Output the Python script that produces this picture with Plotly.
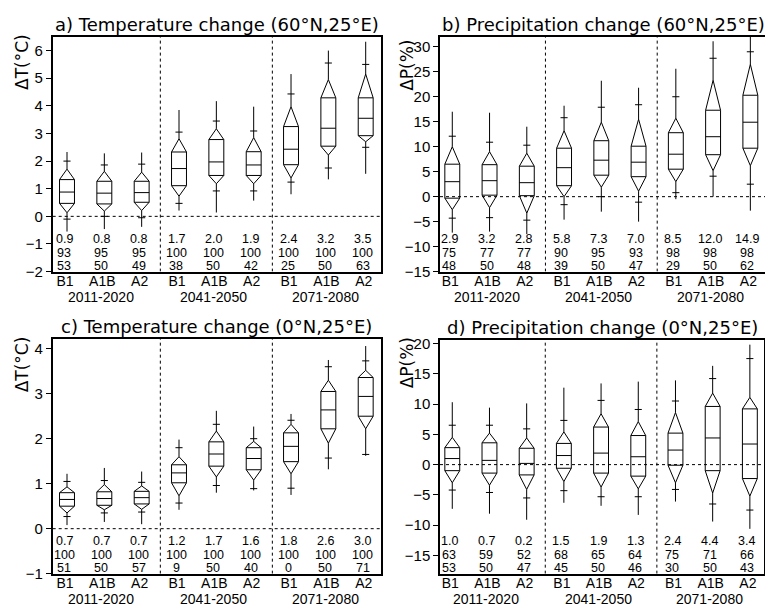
import plotly.graph_objects as go

# Page body has an 8px margin: the figure is drawn 8px in from the top-left.
OFF = 8
W, H = 773 - OFF, 612 - OFF

scenarios = ["B1", "A1B", "A2"]
periods = ["2011-2020", "2041-2050", "2071-2080"]

# Each glyph: [min, lower +, lower apex, box low, median, box high, upper apex, upper +, max]
# order: 2011 B1, A1B, A2, 2041 B1, A1B, A2, 2071 B1, A1B, A2
temp_60N = [
    [-0.55, -0.10, 0.13, 0.47, 0.88, 1.33, 1.71, 2.00, 2.33],
    [-0.46, 0.00, 0.19, 0.45, 0.84, 1.27, 1.63, 1.86, 2.28],
    [-0.38, -0.05, 0.21, 0.51, 0.86, 1.27, 1.60, 1.89, 2.31],
    [0.21, 0.47, 0.73, 1.11, 1.73, 2.33, 2.81, 3.05, 3.85],
    [0.14, 0.92, 1.18, 1.48, 1.97, 2.78, 3.17, 3.45, 4.17],
    [0.57, 0.92, 1.18, 1.48, 1.86, 2.34, 2.85, 3.09, 3.97],
    [0.80, 1.24, 1.39, 1.87, 2.43, 3.25, 3.97, 4.43, 5.15],
    [1.34, 1.75, 2.22, 2.54, 3.19, 4.29, 4.95, 5.55, 6.00],
    [1.54, 2.50, 2.70, 2.92, 3.55, 4.29, 5.15, 5.50, 6.32],
]
prec_60N = [
    [-7.2, -4.3, -2.6, -0.3, 3.0, 6.5, 10.0, 12.1, 17.0],
    [-7.0, -4.2, -2.2, 0.3, 3.2, 6.4, 9.0, 10.9, 16.8],
    [-7.5, -4.7, -3.3, 0.2, 2.8, 6.1, 8.7, 10.3, 14.0],
    [-4.6, -1.6, 0.0, 2.2, 5.8, 9.7, 13.2, 15.8, 18.2],
    [-3.0, 0.0, 1.9, 4.3, 7.3, 11.2, 14.9, 17.9, 23.2],
    [-5.0, -1.1, 1.1, 4.0, 6.9, 10.1, 15.5, 18.4, 21.8],
    [-0.5, 0.8, 3.0, 5.5, 8.5, 12.8, 15.7, 20.0, 25.6],
    [0.0, 4.1, 5.2, 8.4, 12.0, 17.3, 23.3, 27.7, 31.1],
    [-2.8, 2.5, 6.2, 9.7, 14.9, 20.3, 26.5, 29.0, 32.5],
]
temp_0N = [
    [0.08, 0.27, 0.35, 0.50, 0.65, 0.80, 0.93, 1.05, 1.22],
    [0.15, 0.35, 0.42, 0.52, 0.67, 0.82, 0.98, 1.07, 1.35],
    [0.10, 0.37, 0.43, 0.55, 0.69, 0.83, 0.95, 1.03, 1.27],
    [0.42, 0.57, 0.73, 1.02, 1.24, 1.42, 1.60, 1.80, 1.98],
    [0.80, 0.96, 1.15, 1.39, 1.66, 1.93, 2.17, 2.32, 2.62],
    [0.85, 0.89, 1.08, 1.31, 1.56, 1.80, 1.94, 2.00, 2.27],
    [0.75, 0.90, 1.22, 1.49, 1.83, 2.13, 2.32, 2.41, 2.55],
    [1.32, 1.57, 1.90, 2.22, 2.64, 3.05, 3.30, 3.60, 3.75],
    [1.62, 1.65, 2.22, 2.50, 2.94, 3.36, 3.52, 3.73, 4.06],
]
prec_0N = [
    [-7.3, -4.2, -3.0, -1.0, 1.0, 2.8, 4.5, 6.5, 10.3],
    [-8.1, -4.6, -3.4, -1.4, 0.7, 3.6, 5.2, 6.5, 9.4],
    [-9.1, -5.5, -4.1, -1.7, 0.2, 2.7, 4.4, 5.9, 10.1],
    [-6.3, -4.3, -2.8, -0.6, 1.5, 3.5, 5.4, 7.3, 12.7],
    [-6.8, -5.3, -3.7, -1.4, 1.9, 6.2, 8.4, 10.6, 13.4],
    [-8.3, -5.3, -4.0, -1.9, 1.3, 4.8, 7.1, 9.1, 13.7],
    [-6.1, -4.1, -3.0, -0.1, 2.4, 5.2, 8.6, 10.5, 13.9],
    [-9.4, -6.5, -4.7, -1.0, 4.4, 9.6, 11.8, 14.2, 16.3],
    [-10.6, -7.5, -5.2, -2.3, 3.4, 9.2, 11.1, 17.5, 19.8],
]

# Numbers printed below each glyph (three rows)
row1_a = ["0.9", "0.8", "0.8", "1.7", "2.0", "1.9", "2.4", "3.2", "3.5"]
row2_a = ["93", "95", "95", "100", "100", "100", "100", "100", "100"]
row3_a = ["53", "50", "49", "38", "50", "42", "25", "50", "63"]
row1_b = ["2.9", "3.2", "2.8", "5.8", "7.3", "7.0", "8.5", "12.0", "14.9"]
row2_b = ["75", "77", "77", "90", "95", "93", "98", "98", "98"]
row3_b = ["48", "50", "48", "39", "50", "47", "29", "50", "62"]
row1_c = ["0.7", "0.7", "0.7", "1.2", "1.7", "1.6", "1.8", "2.6", "3.0"]
row2_c = ["100", "100", "100", "100", "100", "100", "100", "100", "100"]
row3_c = ["51", "50", "57", "9", "50", "40", "0", "50", "71"]
row1_d = ["1.0", "0.7", "0.2", "1.5", "1.9", "1.3", "2.4", "4.4", "3.4"]
row2_d = ["63", "59", "52", "68", "65", "64", "75", "71", "66"]
row3_d = ["53", "50", "47", "45", "50", "46", "30", "50", "43"]

titles = ["a) Temperature change (60°N,25°E)", "b) Precipitation change (60°N,25°E)",
          "c) Temperature change (0°N,25°E)", "d) Precipitation change (0°N,25°E)"]
ytitles = ["ΔT(°C)", "ΔP(%)", "ΔT(°C)", "ΔP(%)"]
yranges = [[-2, 6.5], [-15, 32], [-1, 4.22], [-18, 20.6]]
ytickvals = [[-2, -1, 0, 1, 2, 3, 4, 5, 6],
             [-15, -10, -5, 0, 5, 10, 15, 20, 25, 30],
             [-1, 0, 1, 2, 3, 4],
             [-15, -10, -5, 0, 5, 10, 15, 20]]

# layout (pixels in the 773x612 page)
px_x = [(52.7, 381), (440, 766), (52.7, 381), (440, 764)]
px_y = [(32.3, 272.3), (32.3, 272.3), (341, 581), (342, 581)]
xranges = [[-0.383, 8.41], [-0.33, 8.42], [-0.383, 8.41], [-0.33, 8.38]]

panels = [
    (temp_60N, [row1_a, row2_a, row3_a]),
    (prec_60N, [row1_b, row2_b, row3_b]),
    (temp_0N, [row1_c, row2_c, row3_c]),
    (prec_0N, [row1_d, row2_d, row3_d]),
]

FONT = "Liberation Sans"
fig = go.Figure()
BW = 0.2    # half-width of box (x units)
PW = 0.095  # half-width of + marks


def fx(px):
    return (px - OFF) / W


def fy(py):
    return 1 - (py - OFF) / H


for p, (vals, rows) in enumerate(panels):
    xa = "x" if p == 0 else f"x{p+1}"
    ya = "y" if p == 0 else f"y{p+1}"
    xs, ys = [], []
    for i, v in enumerate(vals):
        mn, plo, alo, blo, med, bhi, ahi, phi, mx = v
        c = i
        xs += [c, c, None, c, c, None]
        ys += [mn, alo, None, ahi, mx, None]
        xs += [c, c + BW, c + BW, c, c - BW, c - BW, c, None]
        ys += [alo, blo, bhi, ahi, bhi, blo, alo, None]
        for yy in (blo, med, bhi):
            xs += [c - BW, c + BW, None]
            ys += [yy, yy, None]
        for yy in (plo, phi):
            xs += [c - PW, c + PW, None]
            ys += [yy, yy, None]
    fig.add_trace(go.Scatter(x=xs, y=ys, mode="lines", xaxis=xa, yaxis=ya,
                             line=dict(color="black", width=1), hoverinfo="skip",
                             showlegend=False))
    fig.add_trace(go.Scatter(x=xranges[p], y=[0, 0], mode="lines", xaxis=xa, yaxis=ya,
                             line=dict(color="black", width=1, dash="dot"),
                             hoverinfo="skip", showlegend=False))
    for sx in (2.5, 5.5):
        fig.add_trace(go.Scatter(x=[sx, sx], y=yranges[p], mode="lines", xaxis=xa, yaxis=ya,
                                 line=dict(color="black", width=1, dash="dot"),
                                 hoverinfo="skip", showlegend=False))

    x0, x1 = px_x[p]
    y0, y1 = px_y[p]
    dom_x = [fx(x0), fx(x1)]
    dom_y = [fy(y1), fy(y0)]
    axx = dict(domain=dom_x, range=xranges[p], showgrid=False, zeroline=False,
               showline=True, linecolor="black", linewidth=1.5, mirror=True,
               tickvals=list(range(9)), ticktext=scenarios * 3, ticks="",
               tickfont=dict(family=FONT, size=14, color="black"),
               anchor=ya, ticklabelshift=-2, ticklabelstandoff=-4)
    axy = dict(domain=dom_y, range=yranges[p], showgrid=False, zeroline=False,
               showline=True, linecolor="black", linewidth=1.5, mirror=True,
               tickvals=ytickvals[p], ticks="outside", ticklen=5, tickwidth=1,
               tickcolor="black", tickfont=dict(family=FONT, size=15, color="black"),
               anchor=xa)
    fig.layout[("xaxis" if p == 0 else f"xaxis{p+1}")] = axx
    fig.layout[("yaxis" if p == 0 else f"yaxis{p+1}")] = axy

    row_off = [33, 19, 5.5]
    for r, row in enumerate(rows):
        for i, t in enumerate(row):
            fig.add_annotation(x=i, xref=xa, y=row_off[r] / (y1 - y0), yref=f"{ya} domain",
                               text=t, showarrow=False, xshift=-3, borderpad=0,
                               font=dict(family=FONT, size=12.5, color="black"),
                               xanchor="center", yanchor="middle")
    for g, lab in enumerate(periods):
        fig.add_annotation(x=g * 3 + 1, xref=xa, y=fy(y1 + 25.5), yref="paper",
                           text=lab, showarrow=False, xshift=-3, borderpad=0,
                           font=dict(family=FONT, size=14, color="black"),
                           xanchor="center", yanchor="middle")
    fig.add_annotation(x=fx((x0 + x1) / 2), y=fy(y0 + 0.5), xref="paper", yref="paper",
                       text=titles[p], showarrow=False, xanchor="center", yanchor="bottom",
                       font=dict(family="DejaVu Sans", size=18, color="black"))
    ycen = [58, 62, 367, 366][p]
    xcen = [22, 407, 22, 407][p]
    fig.add_annotation(x=fx(xcen), y=fy(ycen), xref="paper", yref="paper",
                       text=ytitles[p], showarrow=False, textangle=-90,
                       xanchor="center", yanchor="middle",
                       font=dict(family="DejaVu Sans", size=17, color="black"))

fig.update_layout(width=W, height=H, margin=dict(l=0, r=0, t=0, b=0),
                  plot_bgcolor="white", paper_bgcolor="white", showlegend=False)
fig.write_html("out.html")
